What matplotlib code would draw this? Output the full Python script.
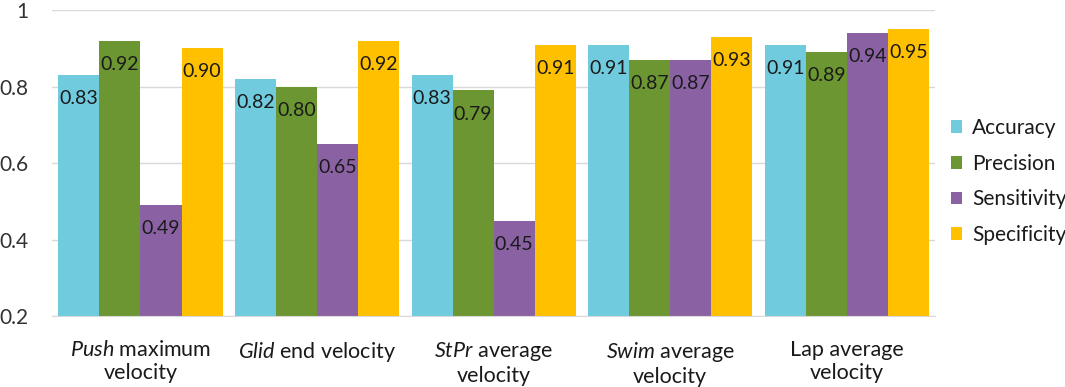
import matplotlib
matplotlib.use('Agg')
import matplotlib.pyplot as plt
import numpy as np

plt.rcParams['font.family'] = ['Lato', 'DejaVu Sans']
plt.rcParams['mathtext.fontset'] = 'custom'
plt.rcParams['mathtext.it'] = 'Lato:italic'
plt.rcParams['mathtext.rm'] = 'Lato'

categories = ['$\\it{Push}$ maximum\nvelocity', '$\\it{Glid}$ end velocity',
              '$\\it{StPr}$ average\nvelocity', '$\\it{Swim}$ average\nvelocity',
              'Lap average\nvelocity']
series = ['Accuracy', 'Precision', 'Sensitivity', 'Specificity']
accuracy = [0.83, 0.82, 0.83, 0.91, 0.91]
precision = [0.92, 0.80, 0.79, 0.87, 0.89]
sensitivity = [0.49, 0.65, 0.45, 0.87, 0.94]
specificity = [0.90, 0.92, 0.91, 0.93, 0.95]
colors = ['#70CBDE', '#6B9631', '#8A62A4', '#FFC000']

fig = plt.figure(figsize=(10.65, 3.87), dpi=100)
ax = fig.add_axes([0.049, 0.183, 0.829, 0.791])

x = np.arange(len(categories))
w = 0.2325
for i, (name, vals) in enumerate(zip(series, [accuracy, precision, sensitivity, specificity])):
    pos = x - 1.5 * w + i * w
    ax.bar(pos, vals, w, color=colors[i], label=name, zorder=2)
    for px, v in zip(pos, vals):
        ax.annotate(f'{v:.2f}', (px, v), xytext=(0, -17), textcoords='offset points',
                    ha='center', va='center', fontsize=14, color='#1a1a1a', zorder=3)

ax.set_ylim(0.2, 1.0)
ax.set_xlim(-0.5, 4.5)
ax.set_yticks([0.2, 0.4, 0.6, 0.8, 1.0])
ax.set_yticklabels(['0.2', '0.4', '0.6', '0.8', '1'])
ax.set_xticks(x)
ax.set_xticklabels(categories, fontsize=15.5, color='#1a1a1a')
ax.tick_params(axis='x', length=0, pad=17)
ax.tick_params(axis='y', length=0, pad=17, labelsize=15, labelcolor='#333333')
ax.grid(axis='y', color='#d9d9d9', linewidth=1, zorder=0)
for s in ['top', 'right', 'left']:
    ax.spines[s].set_visible(False)
ax.spines['bottom'].set_color('#d9d9d9')

ax.legend(loc='center left', bbox_to_anchor=(1.018, 0.44), frameon=False,
          borderaxespad=0, borderpad=0,
          fontsize=15, handlelength=0.55, handleheight=0.55, handletextpad=0.45,
          labelspacing=0.75, labelcolor='#1a1a1a')

fig.savefig('out.png', dpi=100)
